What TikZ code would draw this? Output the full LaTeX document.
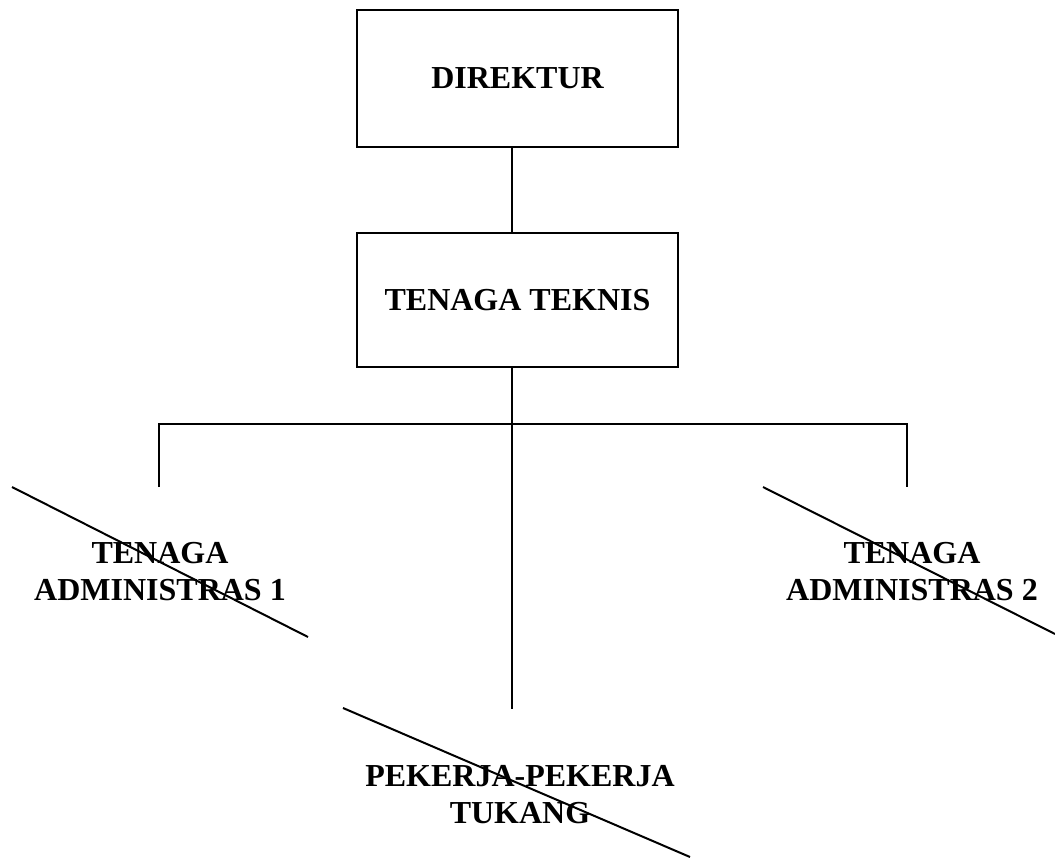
\documentclass[tikz,border=0pt]{standalone}
\usepackage{fontspec}
\setmainfont{Liberation Serif}
\begin{document}
\begin{tikzpicture}[x=1pt,y=-1pt,
  orgbox/.style={draw, line width=2.2pt, minimum width=321pt, inner sep=0pt},
  lbl/.style={font=\fontsize{32}{37}\selectfont\bfseries, align=center, inner sep=0pt},
  link/.style={line width=2pt},
  strike/.style={line width=2pt}]
\useasboundingbox (0,0) rectangle (1055,859);
% boxes
\node[orgbox, minimum height=137pt, lbl] (direktur) at (517.5,78.5) {DIREKTUR};
\node[orgbox, minimum height=134pt, lbl] (teknis) at (517.5,300) {TENAGA TEKNIS};
% labels
\node[lbl] (adm1) at (160,572) {TENAGA\\ADMINISTRAS 1};
\node[lbl] (adm2) at (912,572) {TENAGA\\ADMINISTRAS 2};
\node[lbl] (tukang) at (520,795) {PEKERJA-PEKERJA\\TUKANG};
% junction coordinates
\coordinate (spine) at (512,0);
\coordinate (jl) at (159,424);
\coordinate (jr) at (907,424);
\coordinate (el) at (159,487);
\coordinate (er) at (907,487);
\coordinate (em) at (512,709);
% connectors
\draw[link] (direktur.south -| spine) -- (teknis.north -| spine);
\draw[link] (teknis.south -| spine) -- (em);
\draw[link] (el) -- (jl) -- (jr) -- (er);
% strike-through lines
\draw[strike] (12,487) -- (308,637);
\draw[strike] (763,487) -- (1055,634);
\draw[strike] (343,708) -- (690,857);
\end{tikzpicture}
\end{document}
